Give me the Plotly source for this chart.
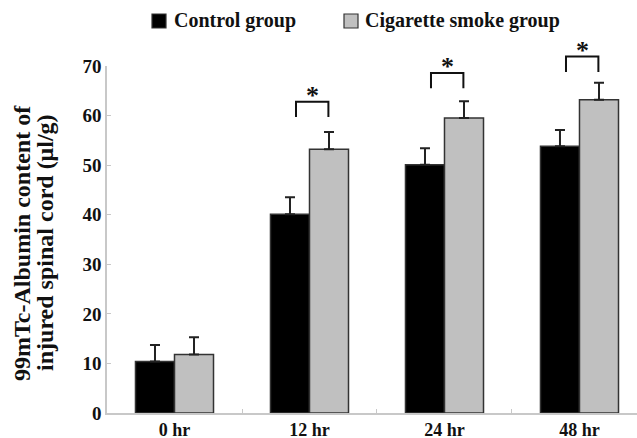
import plotly.graph_objects as go

categories = ["0 hr", "12 hr", "24 hr", "48 hr"]
control_name = "Control group"
smoke_name = "Cigarette smoke group"
control_vals = [10.4, 40.1, 50.1, 53.8]
control_err = [3.3, 3.4, 3.3, 3.3]
smoke_vals = [11.8, 53.2, 59.5, 63.2]
smoke_err = [3.5, 3.5, 3.4, 3.4]
sig_groups = [1, 2, 3]
sig_bracket_top = [62.8, 68.6, 71.9]
y_ticks = [0, 10, 20, 30, 40, 50, 60, 70]
y_title_lines = ["99mTc-Albumin content of", "injured spinal cord (μl/g)"]

YMAX = 70.0
FONT = "Liberation Serif"
AXIS_GREY = "#c8c8c8"
W, H = 637, 438
ML, MR, MT, MB = 107, 0, 66, 25
PW, PH = W - ML - MR, H - MT - MB


def px2x(px):
    return (px - ML) / PW


def px2y(py):
    return (H - MB - py) / PH


series = [
    (control_name, control_vals, control_err, "#000000"),
    (smoke_name, smoke_vals, smoke_err, "#c0c0c0"),
]

fig = go.Figure()
for name, vals, err, col in series:
    fig.add_trace(go.Bar(
        x=categories, y=vals, name=name,
        marker=dict(color=col, line=dict(color="#333333", width=1.5)),
        error_y=dict(type="data", symmetric=False, array=err,
                     arrayminus=[0] * len(err), color="#222222",
                     thickness=2, width=5),
        cliponaxis=False, showlegend=False,
    ))

# significance brackets
leg_h = 3.1
for g, top in zip(sig_groups, sig_bracket_top):
    xl, xr = g - 0.1, g + 0.14
    yt = top / YMAX
    yb = (top - leg_h) / YMAX
    fig.add_shape(type="path",
                  path=f"M {xl} {yb} L {xl} {yt} L {xr} {yt} L {xr} {yb}",
                  xref="x", yref="paper",
                  line=dict(color="#111111", width=2))
    fig.add_annotation(x=(xl + xr) / 2, y=yt, xref="x", yref="paper",
                       text="*", showarrow=False, yanchor="bottom",
                       yshift=-10,
                       font=dict(family=FONT, size=26, color="#111111"))

# legend (drawn as key squares + text)
legend_square_left = [152, 344]
legend_text_left = [172, 363]
sq = 14
sq_top = 14
for (name, _, _, col), sx, tx in zip(series, legend_square_left, legend_text_left):
    fig.add_shape(type="rect", xref="paper", yref="paper",
                  x0=px2x(sx), x1=px2x(sx + sq),
                  y0=px2y(sq_top + sq), y1=px2y(sq_top),
                  fillcolor=col, line=dict(color="#333333", width=1.2))
    fig.add_annotation(x=px2x(tx), y=px2y(sq_top + sq / 2 - 0.5),
                       xref="paper", yref="paper", text=name,
                       showarrow=False, xanchor="left", yanchor="middle",
                       font=dict(family=FONT, size=20, color="#111111",
                                 weight="bold"))

# y-axis title as two rotated lines
for line_text, cx in zip(y_title_lines, [22, 45]):
    fig.add_annotation(x=px2x(cx), y=0.49, xref="paper", yref="paper",
                       text=line_text, textangle=-90, showarrow=False,
                       xanchor="center", yanchor="middle",
                       font=dict(family=FONT, size=24, color="#111111",
                                 weight="bold"))

fig.update_layout(
    width=W, height=H,
    margin=dict(l=ML, r=MR, t=MT, b=MB),
    paper_bgcolor="white", plot_bgcolor="white",
    barmode="group", bargap=0.422, bargroupgap=0,
    font=dict(family=FONT, size=18, color="#111111", weight="bold"),
    showlegend=False,
    xaxis=dict(type="category", range=[-0.5, 3.426], automargin=False,
               showline=True, linecolor=AXIS_GREY, linewidth=1.5,
               ticks="inside", tickson="boundaries", ticklen=4,
               tickcolor=AXIS_GREY, showgrid=False, zeroline=False,
               tickfont=dict(family=FONT, size=18, color="#111111", weight="bold")),
    yaxis=dict(range=[0, YMAX], tickvals=y_ticks, automargin=False,
               showline=True, linecolor=AXIS_GREY, linewidth=1.5,
               ticks="inside", ticklen=4, tickcolor=AXIS_GREY,
               showgrid=False, zeroline=False,
               tickfont=dict(family=FONT, size=19, color="#111111", weight="bold")),
)

fig.write_html("out.html",
               config={"displayModeBar": False},
               post_script="document.body.style.margin='0';"
                           "document.body.style.overflow='hidden';")
